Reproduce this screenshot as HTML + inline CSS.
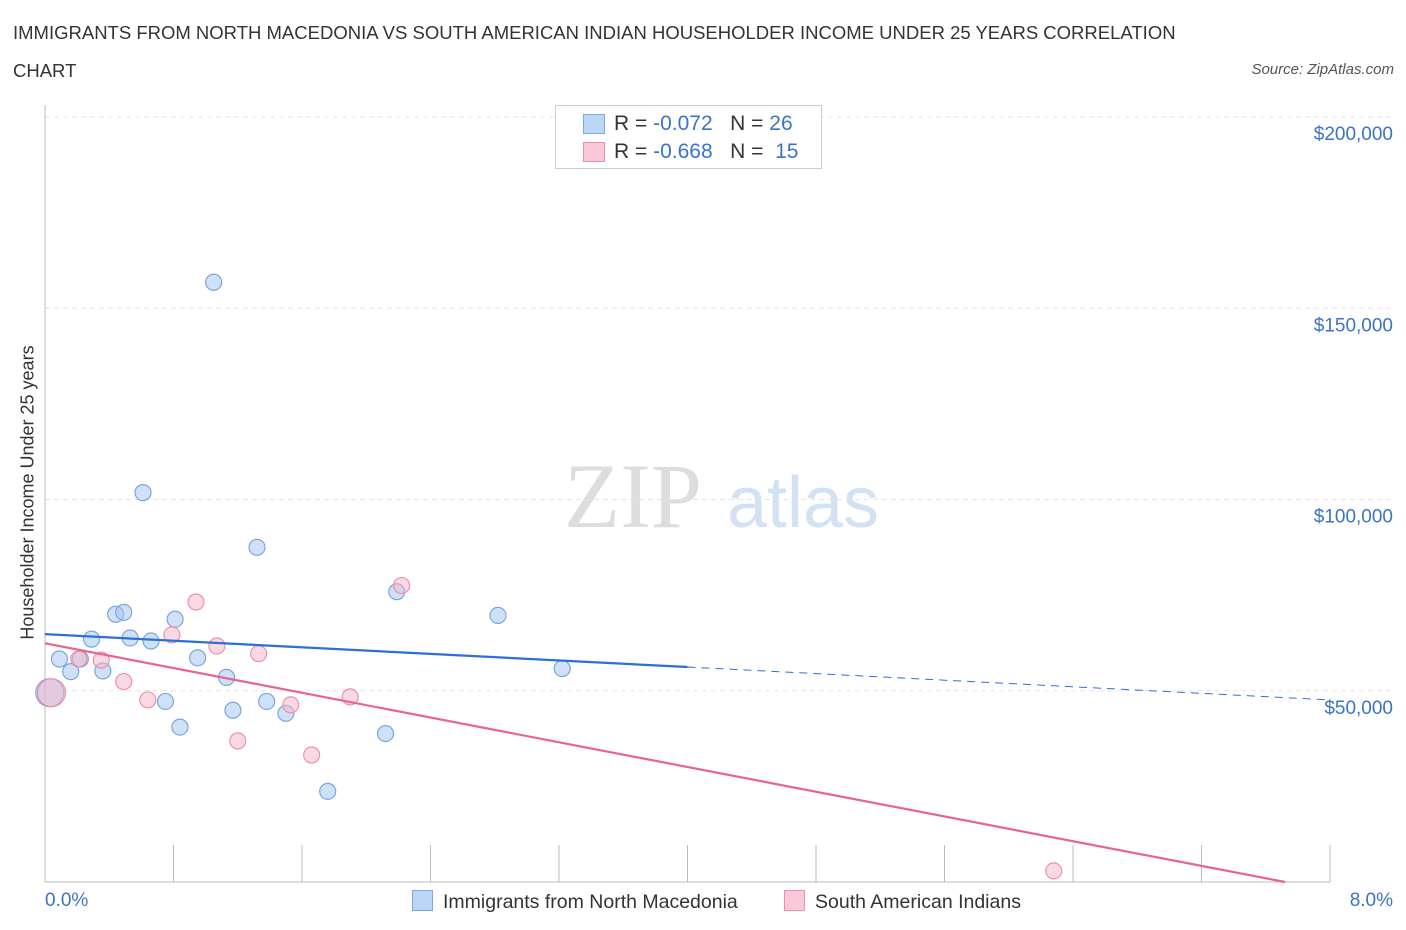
<!DOCTYPE html>
<html><head><meta charset="utf-8">
<style>
body{margin:0;background:#fff;font-family:"Liberation Sans",sans-serif;}
#wrap{position:relative;width:1406px;height:930px;overflow:hidden;}
.t{position:absolute;white-space:nowrap;}
</style></head><body>
<div id="wrap">
<div class="t" style="left:13px;top:14px;font-size:18.5px;color:#333;line-height:38px;">IMMIGRANTS FROM NORTH MACEDONIA VS SOUTH AMERICAN INDIAN HOUSEHOLDER INCOME UNDER 25 YEARS CORRELATION<br>CHART</div>
<div class="t" style="right:12px;top:61px;font-size:15px;color:#555;font-style:italic;">Source: ZipAtlas.com</div>
<svg id="svg" width="1406" height="930" style="position:absolute;left:0;top:0"></svg>
</div>
<script>
const yTicks=[50000,100000,150000,200000];
const yLabels=["$50,000","$100,000","$150,000","$200,000"];
const blueX=[0.03,0.09,0.16,0.22,0.29,0.36,0.44,0.49,0.53,0.61,0.66,0.75,0.81,0.84,0.95,1.05,1.13,1.17,1.32,1.38,1.50,1.76,2.12,2.19,2.82,3.22];
const blueY=[49500,58300,55000,58300,63500,55200,70000,70500,63800,101800,63000,47200,68700,40500,58600,156800,53500,44900,87500,47200,44100,23700,38800,75900,69700,55800];
const pinkX=[0.04,0.21,0.35,0.49,0.64,0.79,0.94,1.07,1.20,1.33,1.53,1.66,1.90,2.22,6.28];
const pinkY=[49500,58300,58000,52400,47600,64600,73200,61700,36900,59700,46300,33200,48400,77500,2900];
const blueTrend=[[0,64800],[4.0,56200],[8.0,47600]];
const pinkTrend=[[0,62400],[7.72,0]];
const X0=45,X1=1330,Y0=882,Y200=117;
const sx=v=>X0+(X1-X0)*v/8;
const sy=v=>Y0-(Y0-Y200)*v/200000;
const svg=document.getElementById('svg');
const NS='http://www.w3.org/2000/svg';
function mk(t,a){const e=document.createElementNS(NS,t);for(const k in a)e.setAttribute(k,a[k]);svg.appendChild(e);return e;}
let w=mk('text',{x:633,y:527,'font-size':92,'font-family':'Liberation Serif, serif',fill:'#ddd','text-anchor':'middle'});w.textContent='ZIP';


w=mk('text',{x:803,y:527,'font-size':72,'font-family':'Liberation Sans, sans-serif',fill:'#d3e2f3','text-anchor':'middle'});w.textContent='atlas';


yTicks.forEach((v,i)=>{
 const g=mk('line',{x1:45,x2:1395,y1:sy(v),y2:sy(v),stroke:'#e3e3e3','stroke-dasharray':'5,4'});
 
 
 const t=mk('text',{x:1393,y:sy(v)+23,'font-size':19,fill:'#3b73c8','text-anchor':'end'});t.textContent=yLabels[i];
 
 
});
let ax=mk('line',{x1:45,x2:45,y1:105,y2:882,stroke:'#bbb'});


ax=mk('line',{x1:45,x2:1330,y1:882,y2:882,stroke:'#bbb'});


for(let i=0;i<=10;i++){const tk=mk('line',{x1:sx(i*0.8),x2:sx(i*0.8),y1:845,y2:882,stroke:'#bbb'});
 
 }
function pts(xs,ys,fill,stroke,name){xs.forEach((x,i)=>{const c=mk('circle',{cx:sx(x),cy:sy(ys[i]),r:i==0?14:8,fill,stroke,'stroke-width':1.2});
 
 });}
pts(blueX,blueY,'rgba(160,196,240,0.5)','#7aa6e0','point-north-macedonia');
pts(pinkX,pinkY,'rgba(248,180,200,0.5)','#ee8fb0','point-south-american-indian');
let l=mk('line',{x1:sx(blueTrend[0][0]),y1:sy(blueTrend[0][1]),x2:sx(blueTrend[1][0]),y2:sy(blueTrend[1][1]),stroke:'#2c6fd6','stroke-width':2.2});


l=mk('line',{x1:sx(blueTrend[1][0]),y1:sy(blueTrend[1][1]),x2:sx(blueTrend[2][0]),y2:sy(blueTrend[2][1]),stroke:'#2c6fd6','stroke-width':1,'stroke-dasharray':'8,6'});


l=mk('line',{x1:sx(pinkTrend[0][0]),y1:sy(pinkTrend[0][1]),x2:sx(pinkTrend[1][0]),y2:sy(pinkTrend[1][1]),stroke:'#e8638f','stroke-width':2.2});


</script>
<div class="t" style="left:-132px;top:482px;transform:rotate(-90deg);font-size:18px;color:#333;width:320px;text-align:center;">Householder Income Under 25 years</div>
<div class="t" style="left:45px;top:890px;font-size:19px;color:#3b73c8;">0.0%</div>
<div class="t" style="right:13px;top:890px;font-size:19px;color:#3b73c8;">8.0%</div>
<div style="position:absolute;left:555px;top:105px;width:265px;height:62px;border:1px solid #ccc;background:#fff;font-size:21px;color:#333;">
 <div style="position:absolute;left:27px;top:8px;width:20px;height:18px;background:#bcd6f6;border:1px solid #7aa6e0;"></div>
 <div class="t" style="left:58px;top:6px;">R = <span style="color:#3b73c8">-0.072</span>&nbsp;&nbsp;&nbsp;N = <span style="color:#3b73c8">26</span></div>
 <div style="position:absolute;left:27px;top:36px;width:20px;height:18px;background:#f9c9d8;border:1px solid #ee8fb0;"></div>
 <div class="t" style="left:58px;top:34px;">R = <span style="color:#3b73c8">-0.668</span>&nbsp;&nbsp;&nbsp;N = &nbsp;<span style="color:#3b73c8">15</span></div>
</div>
<div style="position:absolute;left:412px;top:890px;font-size:19.5px;color:#333;">
 <span style="display:inline-block;width:19px;height:19px;background:#bcd6f6;border:1px solid #7aa6e0;vertical-align:-3px;margin-right:10px;"></span>Immigrants from North Macedonia</div>
<div style="position:absolute;left:784px;top:890px;font-size:19.5px;color:#333;">
 <span style="display:inline-block;width:19px;height:19px;background:#f9c9d8;border:1px solid #ee8fb0;vertical-align:-3px;margin-right:10px;"></span>South American Indians</div>
</body></html>
